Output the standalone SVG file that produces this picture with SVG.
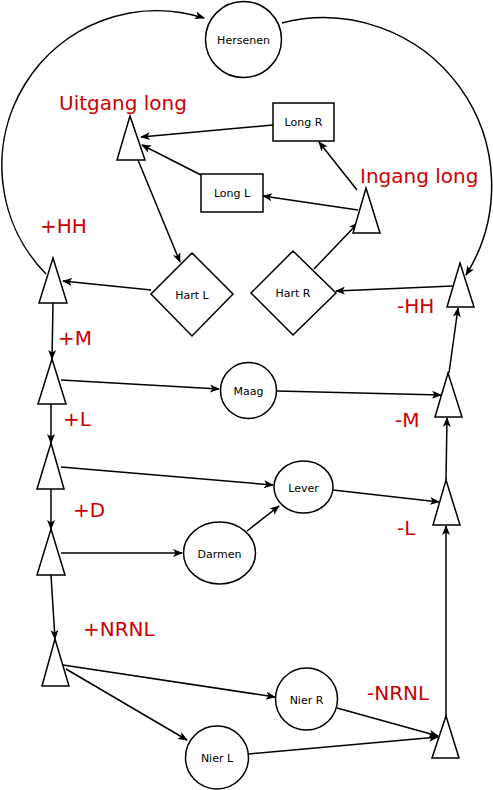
<svg xmlns="http://www.w3.org/2000/svg" width="493" height="790" viewBox="0 0 493 790">
<style>
.n{fill:#fff;stroke:#000;stroke-width:1.5}
.t{font-family:"DejaVu Sans",sans-serif;font-size:11px;fill:#000;text-anchor:middle;dominant-baseline:central}
.r{font-family:"DejaVu Sans",sans-serif;font-size:20px;fill:#CC0000}
.c path{fill:none;stroke:#000;stroke-width:1.5;marker-end:url(#a)}
</style>
<defs>
<marker id="a" viewBox="0 0 10 8" refX="9" refY="4" markerWidth="10" markerHeight="8" markerUnits="userSpaceOnUse" orient="auto">
<path d="M0,0 L10,4 L0,8 L2.5,4 Z" fill="#000"/>
</marker>
</defs>
<g class="c">
<path d="M46,274 A155,155 0 0 1 204,18"/>
<path d="M282,23 A168,168 0 0 1 466,275"/>
<path d="M273,125 L141,137"/>
<path d="M201,175 L142,145"/>
<path d="M138,160 L180,262"/>
<path d="M357,190 L319,142"/>
<path d="M358,210 L263,196"/>
<path d="M314,269 L358,223"/>
<path d="M453,286 L336,291"/>
<path d="M151,290 L63,281"/>
<path d="M53,303 L52,359"/>
<path d="M61,380 L219,389"/>
<path d="M277,391 L441,395"/>
<path d="M449,373 L458,308"/>
<path d="M51,404 L51,443"/>
<path d="M61,467 L273,485"/>
<path d="M333,490 L439,502"/>
<path d="M446,480 L447,418"/>
<path d="M51,489 L51,529"/>
<path d="M61,553 L182,553"/>
<path d="M247,531 L279,506"/>
<path d="M51,575 L55,639"/>
<path d="M63,665 L275,697"/>
<path d="M66,669 L187,740"/>
<path d="M337,708 L438,736"/>
<path d="M249,754 L438,737"/>
<path d="M446,716 L446,526"/>
</g>
<g id="hersenen"><circle class="n" cx="243.5" cy="39.5" r="38"/><text class="t" x="243.5" y="40">Hersenen</text></g>
<g id="longR"><rect class="n" x="273" y="103" width="61" height="38"/><text class="t" x="303.5" y="122">Long R</text></g>
<g id="longL"><rect class="n" x="201" y="174" width="62" height="38"/><text class="t" x="232" y="193">Long L</text></g>
<g id="uitgang"><polygon class="n" points="130,116 145,160 117,160"/></g>
<g id="ingang"><polygon class="n" points="366,188 380,233 353,233"/></g>
<g id="hartL"><polygon class="n" points="192,253 233,294 192,336 151,294"/><text class="t" x="192" y="295">Hart L</text></g>
<g id="hartR"><polygon class="n" points="293,251 336,293 293,335 251,293"/><text class="t" x="293" y="293">Hart R</text></g>
<g id="plusHH"><polygon class="n" points="53,258 67,303 39,303"/></g>
<g id="minHH"><polygon class="n" points="460,263 474,307 447,307"/></g>
<g id="plusM"><polygon class="n" points="52,359 66,404 38,404"/></g>
<g id="maag"><circle class="n" cx="248.5" cy="390.5" r="28"/><text class="t" x="248.5" y="391">Maag</text></g>
<g id="minM"><polygon class="n" points="448,373 462,417 435,417"/></g>
<g id="plusL"><polygon class="n" points="51,443 64,489 37,489"/></g>
<g id="lever"><ellipse class="n" cx="303.5" cy="487" rx="29.5" ry="26"/><text class="t" x="303.5" y="488">Lever</text></g>
<g id="minL"><polygon class="n" points="446,480 460,525 433,525"/></g>
<g id="plusD"><polygon class="n" points="51,529 65,575 37,575"/></g>
<g id="darmen"><ellipse class="n" cx="219.5" cy="553" rx="36" ry="31"/><text class="t" x="219.5" y="554">Darmen</text></g>
<g id="plusNRNL"><polygon class="n" points="55,639 69,686 42,686"/></g>
<g id="nierR"><circle class="n" cx="306.5" cy="699" r="31"/><text class="t" x="306.5" y="700">Nier R</text></g>
<g id="nierL"><circle class="n" cx="217" cy="757.5" r="31.5"/><text class="t" x="217" y="758">Nier L</text></g>
<g id="minNRNL"><polygon class="n" points="446,716 459,758 432,758"/></g>
<g id="labels">
<text class="r" x="59" y="110">Uitgang long</text>
<text class="r" x="360" y="183">Ingang long</text>
<text class="r" x="40" y="233">+HH</text>
<text class="r" x="397" y="313">-HH</text>
<text class="r" x="58" y="345">+M</text>
<text class="r" x="63" y="426">+L</text>
<text class="r" x="395" y="427">-M</text>
<text class="r" x="73" y="517">+D</text>
<text class="r" x="397" y="535">-L</text>
<text class="r" x="83" y="636">+NRNL</text>
<text class="r" x="367" y="700">-NRNL</text>
</g>
</svg>
